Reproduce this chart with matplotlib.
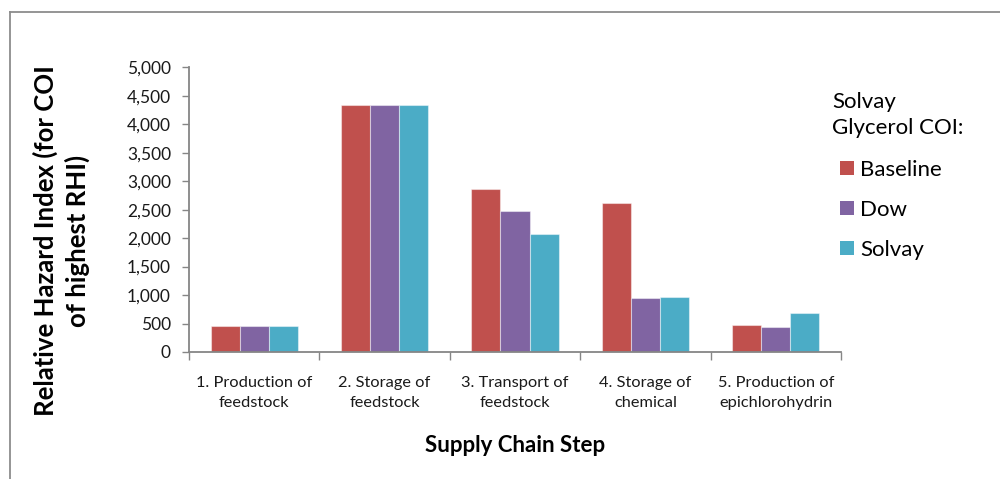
import matplotlib
matplotlib.use("Agg")
import matplotlib.pyplot as plt
import numpy as np
from matplotlib.ticker import FuncFormatter, MultipleLocator, FixedLocator

# Supply chain steps and relative hazard index per COI variant
steps = [
    "1. Production of\nfeedstock",
    "2. Storage of\nfeedstock",
    "3. Transport of\nfeedstock",
    "4. Storage of\nchemical",
    "5. Production of\nepichlorohydrin",
]
series_names = ["Baseline", "Dow", "Solvay"]
baseline = [465, 4345, 2870, 2625, 470]
dow = [465, 4345, 2475, 940, 440]
solvay = [465, 4345, 2075, 970, 680]
colors = ["#C0504D", "#8064A2", "#4BACC6"]

plt.rcParams["font.family"] = ["Lato", "DejaVu Sans"]

fig = plt.figure(figsize=(10, 4.79), dpi=100)
W, H = 1000, 479

# outer chart frame (only top and left edges fall inside the image)
fig.add_artist(plt.Line2D([10 / W, 10 / W], [0, 1 - 11.5 / H], color="#8c8c8c", lw=1.3,
                          transform=fig.transFigure))
fig.add_artist(plt.Line2D([10 / W, 1], [1 - 11.5 / H, 1 - 11.5 / H], color="#8c8c8c", lw=1.3,
                          transform=fig.transFigure))

ax = fig.add_axes([189 / W, 1 - 352 / H, (841 - 189) / W, (352 - 67.3) / H])

x = np.arange(len(steps))
bw = 0.2224
for i, (vals, name, c) in enumerate(zip([baseline, dow, solvay], series_names, colors)):
    ax.bar(x + (i - 1) * bw, vals, width=bw, color=c, label=name,
           edgecolor=(1, 1, 1, 0.45), linewidth=0.8)

ax.set_xlim(-0.5, len(steps) - 0.5)
ax.set_ylim(0, 5000)
ax.yaxis.set_major_locator(MultipleLocator(500))
ax.yaxis.set_major_formatter(FuncFormatter(lambda v, p: f"{int(v):,}"))

ax.set_xticks(x)
ax.set_xticklabels(steps, fontsize=11.8, linespacing=1.6)
ax.xaxis.set_minor_locator(FixedLocator(np.arange(-0.5, len(steps), 1.0)))
ax.tick_params(axis="x", which="major", length=0, pad=17, colors="#1a1a1a")
ax.tick_params(axis="x", which="minor", length=5.5, width=1, color="#868686", direction="out")
ax.tick_params(axis="y", length=5, width=1, color="#868686", direction="out",
               labelsize=12.5, labelcolor="#1a1a1a", pad=8)

for side in ["top", "right"]:
    ax.spines[side].set_visible(False)
for side in ["left", "bottom"]:
    ax.spines[side].set_color("#868686")
    ax.spines[side].set_linewidth(1.3)

fig.text(61 / W, 1 - 240.5 / H, "Relative Hazard Index (for COI\nof highest RHI)",
         rotation=90, ha="center", va="center", fontsize=18.5, fontweight="bold",
         linespacing=1.3, color="#000000")
fig.text(515 / W, 1 - 446 / H, "Supply Chain Step", ha="center", va="center",
         fontsize=16, fontweight="bold", color="#000000")

# legend heading and entries
fig.text(832 / W, 1 - 115 / H, "Solvay\nGlycerol COI:", ha="left", va="center",
         fontsize=16, linespacing=1.4, color="#000000")
leg = fig.legend(loc="upper left", bbox_to_anchor=(840 / W, 1 - 160 / H), frameon=False,
                 fontsize=16, handlelength=0.62, handleheight=0.62,
                 handletextpad=0.3, labelspacing=0.9, borderpad=0, borderaxespad=0)
for h in leg.legend_handles:
    h.set_edgecolor("none")

fig.savefig("out.png", dpi=100)
